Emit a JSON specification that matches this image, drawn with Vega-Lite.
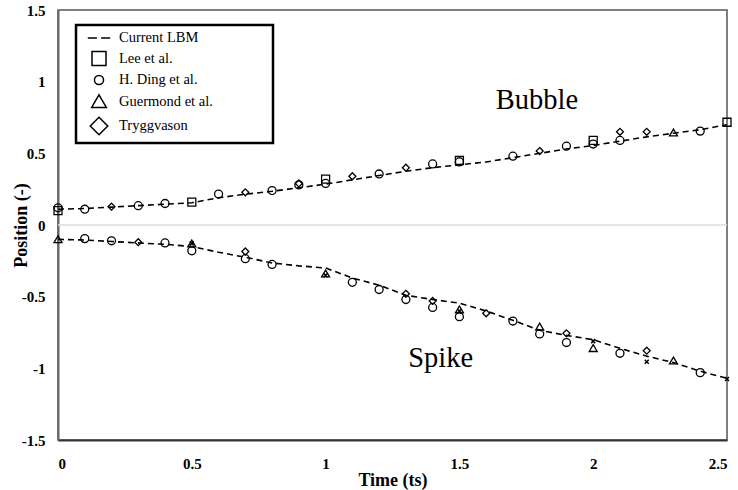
{
  "$schema": "https://vega.github.io/schema/vega-lite/v6.json",
  "width": 669,
  "height": 430,
  "autosize": {"type": "none"},
  "padding": {"left": 58, "top": 10, "right": 11, "bottom": 50},
  "background": "white",
  "config": {
    "view": {"stroke": "#555555", "strokeWidth": 1.5},
    "font": "Liberation Serif",
    "legend": {"strokeWidth": 2.5}
  },
  "datasets": {
    "lbm": [
      {"series": "Bubble", "t": 0, "pos": 0.11}, {"series": "Bubble", "t": 0.1, "pos": 0.115}, {"series": "Bubble", "t": 0.2, "pos": 0.125},
      {"series": "Bubble", "t": 0.3, "pos": 0.135}, {"series": "Bubble", "t": 0.4, "pos": 0.145}, {"series": "Bubble", "t": 0.5, "pos": 0.155},
      {"series": "Bubble", "t": 0.6, "pos": 0.19}, {"series": "Bubble", "t": 0.7, "pos": 0.215}, {"series": "Bubble", "t": 0.8, "pos": 0.235},
      {"series": "Bubble", "t": 0.9, "pos": 0.26}, {"series": "Bubble", "t": 1.0, "pos": 0.285}, {"series": "Bubble", "t": 1.1, "pos": 0.315},
      {"series": "Bubble", "t": 1.2, "pos": 0.345}, {"series": "Bubble", "t": 1.3, "pos": 0.375}, {"series": "Bubble", "t": 1.4, "pos": 0.4},
      {"series": "Bubble", "t": 1.5, "pos": 0.42}, {"series": "Bubble", "t": 1.6, "pos": 0.44}, {"series": "Bubble", "t": 1.7, "pos": 0.47},
      {"series": "Bubble", "t": 1.8, "pos": 0.5}, {"series": "Bubble", "t": 1.9, "pos": 0.53}, {"series": "Bubble", "t": 2.0, "pos": 0.555},
      {"series": "Bubble", "t": 2.1, "pos": 0.585}, {"series": "Bubble", "t": 2.2, "pos": 0.615}, {"series": "Bubble", "t": 2.3, "pos": 0.64},
      {"series": "Bubble", "t": 2.4, "pos": 0.665}, {"series": "Bubble", "t": 2.5, "pos": 0.7},
      {"series": "Spike", "t": 0, "pos": -0.1}, {"series": "Spike", "t": 0.1, "pos": -0.105}, {"series": "Spike", "t": 0.2, "pos": -0.115},
      {"series": "Spike", "t": 0.3, "pos": -0.125}, {"series": "Spike", "t": 0.4, "pos": -0.135}, {"series": "Spike", "t": 0.5, "pos": -0.15},
      {"series": "Spike", "t": 0.6, "pos": -0.19}, {"series": "Spike", "t": 0.7, "pos": -0.225}, {"series": "Spike", "t": 0.8, "pos": -0.265},
      {"series": "Spike", "t": 0.9, "pos": -0.285}, {"series": "Spike", "t": 1.0, "pos": -0.3}, {"series": "Spike", "t": 1.1, "pos": -0.37},
      {"series": "Spike", "t": 1.2, "pos": -0.42}, {"series": "Spike", "t": 1.3, "pos": -0.49}, {"series": "Spike", "t": 1.4, "pos": -0.52},
      {"series": "Spike", "t": 1.5, "pos": -0.545}, {"series": "Spike", "t": 1.6, "pos": -0.6}, {"series": "Spike", "t": 1.7, "pos": -0.665},
      {"series": "Spike", "t": 1.8, "pos": -0.735}, {"series": "Spike", "t": 1.9, "pos": -0.77}, {"series": "Spike", "t": 2.0, "pos": -0.8},
      {"series": "Spike", "t": 2.1, "pos": -0.86}, {"series": "Spike", "t": 2.2, "pos": -0.915}, {"series": "Spike", "t": 2.3, "pos": -0.96},
      {"series": "Spike", "t": 2.4, "pos": -1.02}, {"series": "Spike", "t": 2.5, "pos": -1.07}
    ],
    "points": [
      {"source": "Lee et al.", "t": 0, "pos": 0.1}, {"source": "Lee et al.", "t": 0.5, "pos": 0.16}, {"source": "Lee et al.", "t": 1.0, "pos": 0.32},
      {"source": "Lee et al.", "t": 1.5, "pos": 0.45}, {"source": "Lee et al.", "t": 2.0, "pos": 0.59}, {"source": "Lee et al.", "t": 2.5, "pos": 0.717},
      {"source": "H. Ding et al.", "t": 0, "pos": 0.12}, {"source": "H. Ding et al.", "t": 0.1, "pos": 0.11}, {"source": "H. Ding et al.", "t": 0.3, "pos": 0.135},
      {"source": "H. Ding et al.", "t": 0.4, "pos": 0.15}, {"source": "H. Ding et al.", "t": 0.6, "pos": 0.216}, {"source": "H. Ding et al.", "t": 0.8, "pos": 0.24},
      {"source": "H. Ding et al.", "t": 0.9, "pos": 0.28}, {"source": "H. Ding et al.", "t": 1.0, "pos": 0.29}, {"source": "H. Ding et al.", "t": 1.2, "pos": 0.356},
      {"source": "H. Ding et al.", "t": 1.4, "pos": 0.426}, {"source": "H. Ding et al.", "t": 1.5, "pos": 0.44}, {"source": "H. Ding et al.", "t": 1.7, "pos": 0.48},
      {"source": "H. Ding et al.", "t": 1.9, "pos": 0.55}, {"source": "H. Ding et al.", "t": 2.0, "pos": 0.565}, {"source": "H. Ding et al.", "t": 2.1, "pos": 0.59},
      {"source": "H. Ding et al.", "t": 2.4, "pos": 0.655},
      {"source": "H. Ding et al.", "t": 0.1, "pos": -0.095}, {"source": "H. Ding et al.", "t": 0.2, "pos": -0.11}, {"source": "H. Ding et al.", "t": 0.4, "pos": -0.125},
      {"source": "H. Ding et al.", "t": 0.5, "pos": -0.18}, {"source": "H. Ding et al.", "t": 0.7, "pos": -0.235}, {"source": "H. Ding et al.", "t": 0.8, "pos": -0.275},
      {"source": "H. Ding et al.", "t": 1.1, "pos": -0.4}, {"source": "H. Ding et al.", "t": 1.2, "pos": -0.45}, {"source": "H. Ding et al.", "t": 1.3, "pos": -0.52},
      {"source": "H. Ding et al.", "t": 1.4, "pos": -0.575}, {"source": "H. Ding et al.", "t": 1.5, "pos": -0.64}, {"source": "H. Ding et al.", "t": 1.7, "pos": -0.67},
      {"source": "H. Ding et al.", "t": 1.8, "pos": -0.76}, {"source": "H. Ding et al.", "t": 1.9, "pos": -0.82}, {"source": "H. Ding et al.", "t": 2.1, "pos": -0.895},
      {"source": "H. Ding et al.", "t": 2.4, "pos": -1.03},
      {"source": "Guermond et al.", "t": 2.3, "pos": 0.644}, {"source": "Guermond et al.", "t": 0, "pos": -0.1}, {"source": "Guermond et al.", "t": 0.5, "pos": -0.13},
      {"source": "Guermond et al.", "t": 1.0, "pos": -0.34}, {"source": "Guermond et al.", "t": 1.5, "pos": -0.59}, {"source": "Guermond et al.", "t": 1.8, "pos": -0.71},
      {"source": "Guermond et al.", "t": 2.0, "pos": -0.86}, {"source": "Guermond et al.", "t": 2.3, "pos": -0.947},
      {"source": "Tryggvason", "t": 0.2, "pos": 0.128}, {"source": "Tryggvason", "t": 0.7, "pos": 0.228}, {"source": "Tryggvason", "t": 0.9, "pos": 0.29},
      {"source": "Tryggvason", "t": 1.1, "pos": 0.34}, {"source": "Tryggvason", "t": 1.3, "pos": 0.4}, {"source": "Tryggvason", "t": 1.8, "pos": 0.516},
      {"source": "Tryggvason", "t": 2.1, "pos": 0.65}, {"source": "Tryggvason", "t": 2.2, "pos": 0.65},
      {"source": "Tryggvason", "t": 0.3, "pos": -0.12}, {"source": "Tryggvason", "t": 0.7, "pos": -0.185}, {"source": "Tryggvason", "t": 1.3, "pos": -0.48},
      {"source": "Tryggvason", "t": 1.4, "pos": -0.53}, {"source": "Tryggvason", "t": 1.6, "pos": -0.616}, {"source": "Tryggvason", "t": 1.9, "pos": -0.756},
      {"source": "Tryggvason", "t": 2.2, "pos": -0.877}
    ],
    "crosses": [
      {"t": 0.5, "pos": -0.128}, {"t": 1.0, "pos": -0.35}, {"t": 1.5, "pos": -0.6},
      {"t": 2.0, "pos": -0.81}, {"t": 2.2, "pos": -0.954}, {"t": 2.5, "pos": -1.075}
    ],
    "labels": [
      {"label": "Bubble", "t": 1.79, "pos": 0.87},
      {"label": "Spike", "t": 1.43, "pos": -0.93}
    ]
  },
  "layer": [
    {
      "data": {"values": [{"zero": 0}]},
      "mark": {"type": "rule", "color": "#dcdcdc", "strokeWidth": 1.5},
      "encoding": {"y": {"field": "zero", "type": "quantitative"}}
    },
    {
      "data": {"name": "lbm"},
      "mark": {"type": "line", "color": "black", "strokeWidth": 1.6, "strokeDash": [6, 4]},
      "encoding": {
        "x": {
          "field": "t", "type": "quantitative",
          "scale": {"domain": [0, 2.5], "nice": false, "zero": false},
          "axis": {
            "title": "Time (ts)", "values": [0, 0.5, 1, 1.5, 2, 2.5],
            "labelExpr": "'' + datum.value",
            "grid": false, "ticks": false,
            "domainColor": "#333333", "domainWidth": 2,
            "labelFont": "Liberation Serif", "labelFontWeight": "bold", "labelFontSize": 15, "labelColor": "black",
            "labelPadding": 16,
            "titleFont": "Liberation Serif", "titleFontWeight": "bold", "titleFontSize": 18, "titleColor": "black",
            "titlePadding": 0
          }
        },
        "y": {
          "field": "pos", "type": "quantitative",
          "scale": {"domain": [-1.5, 1.5], "nice": false, "zero": false},
          "axis": {
            "title": "Position (-)", "values": [-1.5, -1, -0.5, 0, 0.5, 1, 1.5],
            "labelExpr": "'' + datum.value",
            "grid": false, "ticks": false,
            "domainColor": "#666666", "domainWidth": 2,
            "labelFont": "Liberation Serif", "labelFontWeight": "bold", "labelFontSize": 15, "labelColor": "black",
            "labelPadding": 13,
            "titleFont": "Liberation Serif", "titleFontWeight": "bold", "titleFontSize": 18, "titleColor": "black",
            "titlePadding": -9
          }
        },
        "detail": {"field": "series"}
      }
    },
    {
      "data": {"name": "points"},
      "encoding": {
        "x": {"field": "t", "type": "quantitative"},
        "y": {"field": "pos", "type": "quantitative"},
        "shape": {
          "field": "source", "type": "nominal",
          "scale": {
            "domain": ["Current LBM", "Lee et al.", "H. Ding et al.", "Guermond et al.", "Tryggvason"],
            "range": ["M-1.6,0H-0.3M0.3,0H1.6", "square", "M0.65,0A0.65,0.65,0,1,1,-0.65,0A0.65,0.65,0,1,1,0.65,0Z", "M0,-0.95L1.05,0.85L-1.05,0.85Z", "M0,-1.25L1.25,0L0,1.25L-1.25,0Z"]
          },
          "legend": {
            "title": null, "orient": "none", "legendX": 18, "legendY": 15,
            "strokeColor": "black", "fillColor": "white",
            "padding": 5, "rowPadding": 3.5, "symbolOffset": 10,
            "symbolSize": 196, "symbolStrokeColor": "black", "symbolStrokeWidth": 1.5, "symbolFillColor": "transparent",
            "labelFont": "Liberation Serif", "labelFontSize": 14.5, "labelColor": "black", "labelOffset": 12,
            "labelLimit": 300,
            "labelExpr": "datum.label + '\u2800\u2800\u2800\u2800\u2800'"
          }
        }
      },
      "layer": [
        {
          "transform": [{"filter": "datum.source === 'Lee et al.'"}],
          "mark": {"type": "point", "filled": false, "color": "black", "strokeWidth": 1.3, "opacity": 1, "size": 64}
        },
        {
          "transform": [{"filter": "datum.source === 'H. Ding et al.'"}],
          "mark": {"type": "point", "filled": false, "color": "black", "strokeWidth": 1.3, "opacity": 1, "size": 150}
        },
        {
          "transform": [{"filter": "datum.source === 'Guermond et al.'"}],
          "mark": {"type": "point", "filled": false, "color": "black", "strokeWidth": 1.3, "opacity": 1, "size": 58}
        },
        {
          "transform": [{"filter": "datum.source === 'Tryggvason'"}],
          "mark": {"type": "point", "filled": false, "color": "black", "strokeWidth": 1.3, "opacity": 1, "size": 31}
        }
      ]
    },
    {
      "data": {"name": "crosses"},
      "mark": {"type": "point", "filled": false, "color": "black", "strokeWidth": 1.5, "shape": "M-1,-1L1,1M-1,1L1,-1", "size": 16, "opacity": 1},
      "encoding": {
        "x": {"field": "t", "type": "quantitative"},
        "y": {"field": "pos", "type": "quantitative"}
      }
    },
    {
      "data": {"name": "labels"},
      "mark": {"type": "text", "font": "Liberation Serif", "fontSize": 28.5, "color": "black"},
      "encoding": {
        "x": {"field": "t", "type": "quantitative"},
        "y": {"field": "pos", "type": "quantitative"},
        "text": {"field": "label"}
      }
    }
  ]
}
